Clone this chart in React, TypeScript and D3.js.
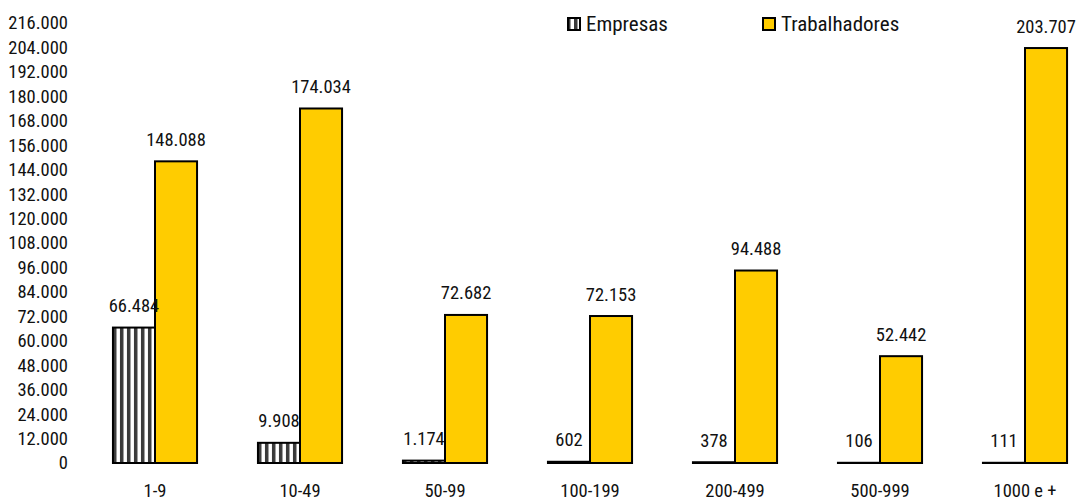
import React from "react";
import * as d3 from "d3";

// Company size bands (number of employees)
const categories = ["1-9", "10-49", "50-99", "100-199", "200-499", "500-999", "1000 e +"];
// Number of companies per size band
const empresas = [66484, 9908, 1174, 602, 378, 106, 111];
// Number of workers per size band
const trabalhadores = [148088, 174034, 72682, 72153, 94488, 52442, 203707];
const seriesNames = ["Empresas", "Trabalhadores"];
const yTicks = d3.range(0, 216001, 12000);

const W = 1076;
const H = 501;
const FONT = "Roboto, 'Open Sans', sans-serif";
const YELLOW = "#FFCC00";

const ptLocale = d3.formatLocale({
  decimal: ",",
  thousands: ".",
  grouping: [3],
  currency: ["", ""],
});
const fmt = ptLocale.format(",d");

export default function App() {
  const x0 = d3
    .scaleBand<string>()
    .domain(categories)
    .range([82.5, 1097.5])
    .paddingInner(0.42)
    .paddingOuter(0.21);
  const x1 = d3
    .scaleBand<string>()
    .domain(seriesNames)
    .range([0, x0.bandwidth()]);
  const y = d3.scaleLinear().domain([0, 216000]).range([463, 23]);

  const rows = categories.map((c, i) => ({
    cat: c,
    values: [empresas[i], trabalhadores[i]],
  }));

  return (
    <svg
      width={W}
      height={H}
      style={{ position: "absolute", left: 0, top: 0, background: "#fff" }}
      fontFamily={FONT}
      fontStretch="condensed"
    >
      <defs>
        <pattern id="stripes" patternUnits="userSpaceOnUse" width={7} height={7}>
          <rect width={7} height={7} fill="#fff" />
          <rect x={0} width={3} height={7} fill="#3a3a3a" />
          <rect x={3} width={1} height={7} fill="#9a9a9a" />
        </pattern>
      </defs>

      {/* y-axis tick labels */}
      <g fontSize={18.5} fill="#111" textAnchor="end">
        {yTicks.map((t) => (
          <text key={t} x={68} y={y(t)} dy="0.35em">
            {fmt(t)}
          </text>
        ))}
      </g>

      {/* bars */}
      {rows.map((r) => (
        <g key={r.cat} transform={`translate(${x0(r.cat)},0)`}>
          {r.values.map((v, j) => {
            const name = seriesNames[j];
            const top = y(v);
            return (
              <rect
                key={name}
                x={x1(name)}
                y={top}
                width={x1.bandwidth()}
                height={Math.max(0, y(0) - top)}
                fill={j === 0 ? "url(#stripes)" : YELLOW}
                stroke="#000"
                strokeWidth={2}
              />
            );
          })}
        </g>
      ))}

      {/* value labels */}
      <g fontSize={18.5} fill="#111" textAnchor="middle">
        {rows.map((r) =>
          r.values.map((v, j) => {
            const name = seriesNames[j];
            return (
              <text
                key={r.cat + name}
                x={(x0(r.cat) as number) + (x1(name) as number) + x1.bandwidth() / 2}
                y={y(v) - 15.5}
              >
                {fmt(v)}
              </text>
            );
          })
        )}
      </g>

      {/* category labels */}
      <g fontSize={18.5} fill="#111" textAnchor="middle">
        {categories.map((c) => (
          <text key={c} x={(x0(c) as number) + x0.bandwidth() / 2} y={497}>
            {c}
          </text>
        ))}
      </g>

      {/* legend */}
      <g fontSize={21} fill="#111">
        {seriesNames.map((name, j) => {
          const lx = j === 0 ? 567 : 762;
          return (
            <g key={name} transform={`translate(${lx},17)`}>
              <rect
                x={1}
                y={1}
                width={12}
                height={12}
                fill={j === 0 ? "url(#stripes)" : YELLOW}
                stroke="#000"
                strokeWidth={2}
              />
              <text x={19} y={7} dy="0.35em">
                {name}
              </text>
            </g>
          );
        })}
      </g>
    </svg>
  );
}
